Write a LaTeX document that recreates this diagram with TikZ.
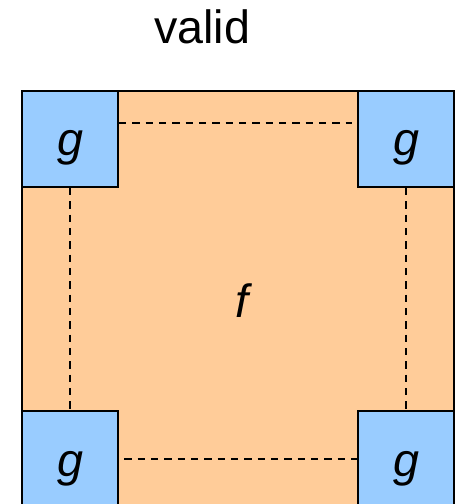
\documentclass[tikz,border=0pt]{standalone}
\usepackage{fontspec}
\setmainfont{Liberation Sans}
\definecolor{fcolor}{HTML}{FFCC99}
\definecolor{gcolor}{HTML}{99CCFF}

\begin{document}
\begin{tikzpicture}[
          x=0.75pt, y=-0.75pt,
          outer/.style={
            rectangle,
            draw=black,
            line width=1.6pt,
            fill=fcolor,
            inner sep=0pt,
            minimum size=324pt,
          },
          corner/.style={
            rectangle,
            draw=black,
            line width=1.6pt,
            fill=gcolor,
            inner sep=0pt,
            minimum size=72pt,
          },
          lab/.style={
            anchor=base,
            font=\fontsize{35}{42}\selectfont\itshape,
          },
          link/.style={
            dash pattern=on 5.5pt off 4.5pt,
            line width=1.4pt,
          },
        ]
          \useasboundingbox (0,0) rectangle (458,504);
          \clip (0,0) rectangle (458,504);

          \node[anchor=base, font=\fontsize{35}{42}\selectfont] (title) at (202,43) {valid};

          % f region with the four g blocks in its corners
          \node[outer] (fsq) at (238,307) {};
          \node[corner] (tl) at (70,139) {};
          \node[corner] (tr) at (406,139) {};
          \node[corner] (bl) at (70,459) {};
          \node[corner] (br) at (406,459) {};

          \node[lab] (ftxt) at (242,317) {f};
          \node[lab] (gtl) at (70,155) {g};
          \node[lab] (gtr) at (406,155) {g};
          \node[lab] (gbl) at (70,476) {g};
          \node[lab] (gbr) at (406,476) {g};

          \draw[link]
              ([yshift=12pt]tl.east) edge ([yshift=12pt,xshift=-4pt]tr.west)
              (tl.south) edge (bl.north)
              (tr.south) edge (br.north)
              ([xshift=4pt]bl.east) edge (br.west);
        \end{tikzpicture}
\end{document}
